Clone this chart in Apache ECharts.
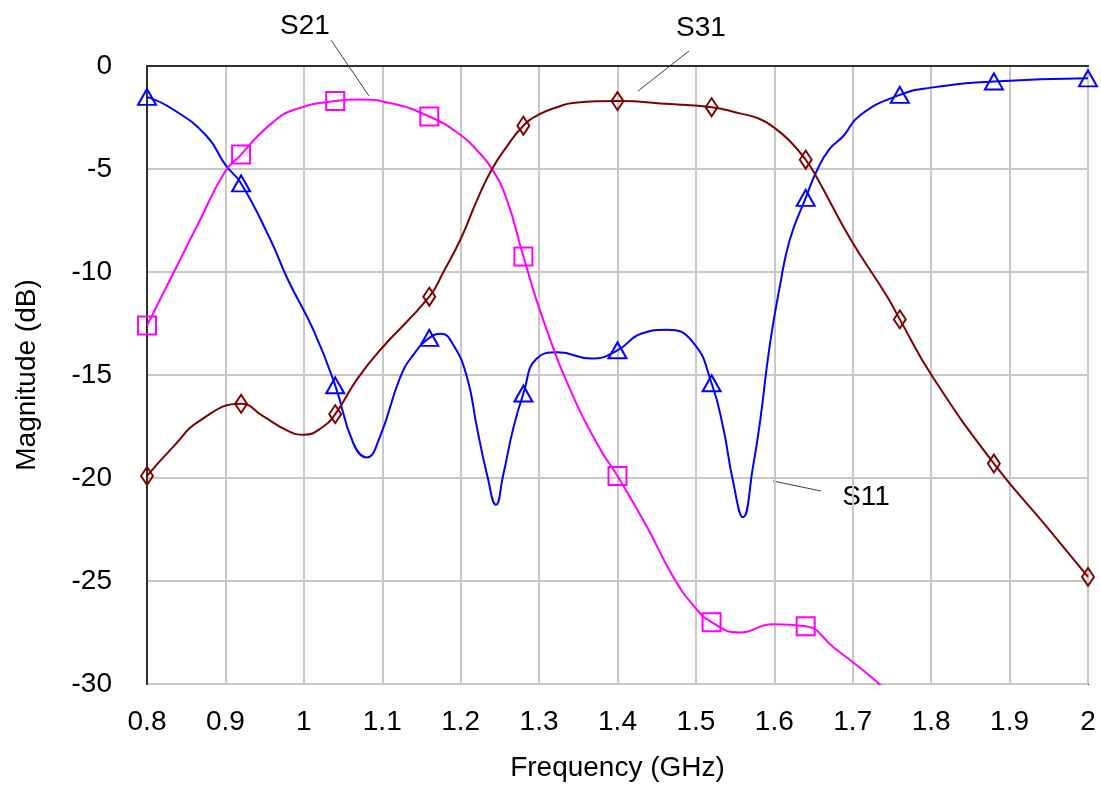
<!DOCTYPE html>
<html>
<head>
<meta charset="utf-8">
<script src="https://cdn.jsdelivr.net/npm/echarts@6/dist/echarts.min.js"></script>
<style>
  html, body { margin: 0; padding: 0; background: #fff; }
  #chart { width: 1101px; height: 787px; }
</style>
</head>
<body>
<div id="chart"></div>
<script>
// Frequencies (GHz) carrying a marker symbol
const markerFreq = [0.8, 0.92, 1.04, 1.16, 1.28, 1.4, 1.52, 1.64, 1.76, 1.88, 2.0];

// S11 – input reflection
const s11Freq = [0.80, 0.833, 0.876, 0.90, 0.92, 0.957, 0.98, 1.012, 1.04, 1.063, 1.08, 1.097, 1.123, 1.14, 1.16,
  1.175, 1.19, 1.208, 1.221, 1.234, 1.245, 1.254, 1.267, 1.28, 1.297, 1.324, 1.367, 1.40, 1.43, 1.463, 1.496,
  1.52, 1.535, 1.547, 1.56, 1.573, 1.582, 1.594, 1.607, 1.62, 1.64, 1.654, 1.67, 1.688, 1.709, 1.76, 1.80, 1.88, 2.00];
const s11Mag = [-1.5, -2.1, -3.4, -4.8, -5.7, -8.4, -10.4, -12.8, -15.5, -18.3, -19.0, -18.0, -15.1, -14.0, -13.2,
  -13.0, -13.5, -15.1, -17.6, -19.9, -21.3, -19.9, -17.6, -15.9, -14.2, -13.9, -14.2, -13.8, -13.0, -12.8, -13.4,
  -15.4, -17.6, -20.1, -21.9, -19.4, -17.2, -13.6, -10.7, -8.4, -6.4, -5.1, -4.05, -3.4, -2.4, -1.4, -1.05, -0.75, -0.6];

// S21 – transmission to port 2
const s21Freq = [0.80, 0.833, 0.866, 0.90, 0.92, 0.94, 0.96, 0.982, 1.04, 1.07, 1.11, 1.16, 1.20, 1.221, 1.24, 1.259,
  1.28, 1.305, 1.343, 1.378, 1.40, 1.438, 1.471, 1.497, 1.52, 1.556, 1.598, 1.64, 1.675, 1.731, 1.76, 1.80];
const s21Mag = [-12.6, -10.1, -7.6, -5.1, -4.3, -3.45, -2.75, -2.2, -1.7, -1.63, -1.8, -2.45, -3.35, -4.1, -5.0, -6.5,
  -9.25, -12.3, -16.0, -18.6, -19.9, -22.4, -24.8, -26.2, -27.0, -27.5, -27.1, -27.2, -28.2, -29.9, -31.0, -32.8];

// S31 – transmission to port 3
const s31Freq = [0.80, 0.833, 0.868, 0.92, 0.948, 0.979, 1.00, 1.025, 1.04, 1.068, 1.097, 1.16, 1.178, 1.20, 1.221,
  1.24, 1.259, 1.28, 1.30, 1.323, 1.343, 1.40, 1.467, 1.52, 1.556, 1.58, 1.60, 1.62, 1.64, 1.654, 1.697, 1.744, 1.76,
  1.802, 1.88, 1.948, 2.00];
const s31Mag = [-19.9, -18.5, -17.2, -16.4, -17.0, -17.7, -17.9, -17.5, -16.9, -15.2, -13.8, -11.2, -10.0, -8.4, -6.5,
  -5.0, -3.9, -2.9, -2.35, -2.0, -1.8, -1.7, -1.85, -2.0, -2.3, -2.55, -3.0, -3.65, -4.55, -5.4, -8.4, -11.2, -12.3,
  -15.1, -19.3, -22.4, -24.8];

const FONT = "'Liberation Sans', Arial, sans-serif";
const FS = 28;

function points(freq, mag, symbol, size) {
  return freq.map((f, i) => {
    const hasMarker = markerFreq.some(m => Math.abs(m - f) < 1e-6);
    return hasMarker
      ? { value: [f, mag[i]], symbol: symbol, symbolSize: size }
      : { value: [f, mag[i]], symbol: 'none' };
  });
}

function curve(name, freq, mag, color, symbol, size) {
  return {
    name: name,
    type: 'line',
    data: points(freq, mag, symbol, size),
    smooth: 0.5,
    showSymbol: true,
    showAllSymbol: true,
    clip: true,
    lineStyle: { color: color, width: 2 },
    itemStyle: { color: 'rgba(255,255,255,0)', borderColor: color, borderWidth: 2 },
    emphasis: { disabled: true },
    animation: false
  };
}

const chart = echarts.init(document.getElementById('chart'));

chart.setOption({
  backgroundColor: '#ffffff',
  animation: false,
  grid: {
    left: 147, right: 13, top: 66, bottom: 103,
    outerBoundsMode: 'none',
    containLabel: false,
    show: true, borderColor: '#303030', borderWidth: 2, backgroundColor: 'transparent'
  },
  xAxis: {
    type: 'value',
    min: 0.8, max: 2, interval: 0.1,
    name: 'Frequency (GHz)',
    nameLocation: 'middle',
    nameGap: 70,
    nameTextStyle: { fontFamily: FONT, fontSize: FS, color: '#000' },
    axisLine: { show: true, lineStyle: { color: '#303030', width: 2 } },
    axisTick: { show: false },
    axisLabel: {
      fontFamily: FONT, fontSize: FS, color: '#000', margin: 24,
      formatter: v => String(Math.round(v * 10) / 10)
    },
    splitLine: { show: true, lineStyle: { color: '#c8c8c8', width: 2 } }
  },
  yAxis: {
    type: 'value',
    min: -30, max: 0, interval: 5,
    name: 'Magnitude (dB)',
    nameLocation: 'middle',
    nameGap: 106,
    nameRotate: 90,
    nameTextStyle: { fontFamily: FONT, fontSize: FS, color: '#000' },
    axisLine: { show: true, lineStyle: { color: '#303030', width: 2 } },
    axisTick: { show: false },
    axisLabel: { fontFamily: FONT, fontSize: FS, color: '#000', margin: 35 },
    splitLine: { show: true, lineStyle: { color: '#c8c8c8', width: 2 } }
  },
  series: [
    curve('S11', s11Freq, s11Mag, '#0000ff', 'triangle', [18, 16]),
    curve('S21', s21Freq, s21Mag, '#ff00ff', 'rect', [18, 18]),
    curve('S31', s31Freq, s31Mag, '#800000', 'diamond', [12, 18])
  ],
  graphic: [
    { type: 'line', shape: { x1: 331, y1: 40, x2: 369, y2: 96 }, style: { stroke: '#404040', lineWidth: 1 } },
    { type: 'text', x: 305, y: 26, style: { text: 'S21', font: FS + "px " + FONT, fill: '#000', align: 'center', verticalAlign: 'middle' } },
    { type: 'line', shape: { x1: 689, y1: 51, x2: 638, y2: 91 }, style: { stroke: '#404040', lineWidth: 1 } },
    { type: 'text', x: 701, y: 28, style: { text: 'S31', font: FS + "px " + FONT, fill: '#000', align: 'center', verticalAlign: 'middle' } },
    { type: 'line', shape: { x1: 773, y1: 481, x2: 821, y2: 491 }, style: { stroke: '#404040', lineWidth: 1 } },
    { type: 'text', x: 866, y: 497, style: { text: 'S11', font: FS + "px " + FONT, fill: '#000', align: 'center', verticalAlign: 'middle' } }
  ]
});
</script>
</body>
</html>
